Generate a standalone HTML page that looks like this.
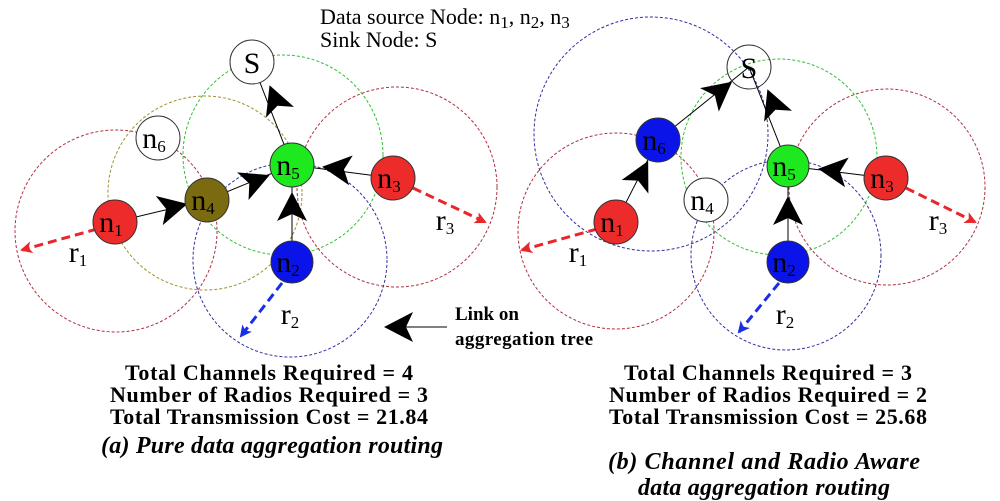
<!DOCTYPE html>
<html><head><meta charset="utf-8"><style>
body{margin:0;background:#fff}
svg{display:block}
text{font-family:"Liberation Serif",serif}
.n{font-size:30px;text-anchor:middle}
.s{font-size:17px}
.b{font-weight:bold;font-size:22px;text-anchor:middle}
.i{font-weight:bold;font-style:italic;font-size:24px;text-anchor:middle}
</style></head><body>
<svg width="1000" height="501" viewBox="0 0 1000 501" xmlns="http://www.w3.org/2000/svg">
<defs>
<g id="ah"><polygon points="18,0 -11,-15 -4,0 -11,15" fill="#000"/></g>
<marker id="mr" markerWidth="12" markerHeight="12" refX="10" refY="6" orient="auto" markerUnits="userSpaceOnUse"><polygon points="0,0 12,6 0,12 3,6" fill="#e8262b"/></marker>
<marker id="mb" markerWidth="12" markerHeight="12" refX="10" refY="6" orient="auto" markerUnits="userSpaceOnUse"><polygon points="0,0 12,6 0,12 3,6" fill="#1a2ee8"/></marker>
</defs>
<text x="320" y="24" style="font-size:22px">Data source Node: n<tspan class="s" dy="4">1</tspan><tspan dy="-4">, n</tspan><tspan class="s" dy="4">2</tspan><tspan dy="-4">, n</tspan><tspan class="s" dy="4">3</tspan></text>
<text x="320" y="47" style="font-size:22px">Sink Node: S</text>
<g fill="none" stroke-width="1" stroke-dasharray="3,2">
<circle cx="116" cy="231" r="101" stroke="#b03040"/>
<circle cx="205" cy="193" r="97" stroke="#a09030"/>
<circle cx="283" cy="155" r="100" stroke="#30c030"/>
<circle cx="397" cy="187" r="100" stroke="#b03040"/>
<circle cx="290" cy="260" r="97" stroke="#3030a0"/>
<circle cx="651" cy="134" r="117" stroke="#3030a0"/>
<circle cx="616" cy="231" r="98" stroke="#b03040"/>
<circle cx="779" cy="157" r="98" stroke="#30c030"/>
<circle cx="887" cy="187" r="98" stroke="#b03040"/>
<circle cx="786" cy="255" r="95" stroke="#3030a0"/>
</g>
<g stroke="#000" stroke-width="1">
<line x1="115" y1="222" x2="207" y2="200"/><line x1="207" y1="200" x2="292" y2="165"/>
<line x1="393" y1="178" x2="292" y2="165"/><line x1="292" y1="262" x2="292" y2="165"/>
<line x1="292" y1="165" x2="252" y2="62"/>
<line x1="616" y1="222" x2="658" y2="140"/><line x1="658" y1="140" x2="749" y2="67"/>
<line x1="788" y1="166" x2="749" y2="67"/><line x1="886" y1="178" x2="788" y2="166"/>
<line x1="788" y1="262" x2="788" y2="166"/>
<line x1="447" y1="327" x2="395" y2="327"/>
</g>
<g stroke-width="3" stroke-dasharray="9,5" fill="none">
<line x1="97" y1="229" x2="22" y2="250" stroke="#e8262b" marker-end="url(#mr)"/>
<line x1="413" y1="188" x2="485" y2="222" stroke="#e8262b" marker-end="url(#mr)"/>
<line x1="282" y1="283" x2="241" y2="336" stroke="#1a2ee8" marker-end="url(#mb)"/>
<line x1="597" y1="229" x2="522" y2="250" stroke="#e8262b" marker-end="url(#mr)"/>
<line x1="906" y1="188" x2="975" y2="222" stroke="#e8262b" marker-end="url(#mr)"/>
<line x1="779" y1="283" x2="739" y2="332" stroke="#1a2ee8" marker-end="url(#mb)"/>
</g>
<use href="#ah" transform="translate(170,208) rotate(-13.4)"/>
<use href="#ah" transform="translate(253,182) rotate(-22.4)"/>
<use href="#ah" transform="translate(340,169) rotate(187)"/>
<use href="#ah" transform="translate(292,210) rotate(-90)"/>
<use href="#ah" transform="translate(276,102) rotate(-111)"/>
<use href="#ah" transform="translate(640,177) rotate(-63)"/>
<use href="#ah" transform="translate(718,93) rotate(-38.7)"/>
<use href="#ah" transform="translate(774,106) rotate(-111.5)"/>
<use href="#ah" transform="translate(836,171) rotate(187)"/>
<use href="#ah" transform="translate(788,214) rotate(-90)"/>
<use href="#ah" transform="translate(402,327) rotate(180)"/>
<g stroke="#333" stroke-width="1">
<circle cx="252" cy="62" r="22" fill="#fff"/>
<circle cx="158" cy="138" r="22" fill="#fff"/>
<circle cx="292" cy="165" r="22" fill="#1ee81e"/>
<circle cx="207" cy="200" r="22" fill="#7a6a10"/>
<circle cx="115" cy="222" r="22" fill="#ee2b2b"/>
<circle cx="393" cy="178" r="22" fill="#ee2b2b"/>
<circle cx="292" cy="262" r="21" fill="#0a14e8"/>
<circle cx="749" cy="67" r="22" fill="none"/>
<circle cx="658" cy="140" r="22" fill="#0a14e8"/>
<circle cx="788" cy="166" r="21" fill="#1ee81e"/>
<circle cx="706" cy="200" r="22" fill="#fff"/>
<circle cx="616" cy="222" r="22" fill="#ee2b2b"/>
<circle cx="886" cy="178" r="22" fill="#ee2b2b"/>
<circle cx="788" cy="262" r="21" fill="#0a14e8"/>
</g>
<g class="n">
<text x="252" y="73">S</text><text x="749" y="78">S</text>
<text x="154" y="148">n<tspan class="s" dy="4">6</tspan></text>
<text x="288" y="175">n<tspan class="s" dy="4">5</tspan></text>
<text x="203" y="210">n<tspan class="s" dy="4">4</tspan></text>
<text x="111" y="232">n<tspan class="s" dy="4">1</tspan></text>
<text x="389" y="188">n<tspan class="s" dy="4">3</tspan></text>
<text x="288" y="272">n<tspan class="s" dy="4">2</tspan></text>
<text x="654" y="150">n<tspan class="s" dy="4">6</tspan></text>
<text x="784" y="176">n<tspan class="s" dy="4">5</tspan></text>
<text x="702" y="210">n<tspan class="s" dy="4">4</tspan></text>
<text x="612" y="232">n<tspan class="s" dy="4">1</tspan></text>
<text x="882" y="188">n<tspan class="s" dy="4">3</tspan></text>
<text x="784" y="272">n<tspan class="s" dy="4">2</tspan></text>
<text x="78" y="262">r<tspan class="s" dy="4">1</tspan></text>
<text x="445" y="230">r<tspan class="s" dy="4">3</tspan></text>
<text x="290" y="324">r<tspan class="s" dy="4">2</tspan></text>
<text x="578" y="262">r<tspan class="s" dy="4">1</tspan></text>
<text x="938" y="230">r<tspan class="s" dy="4">3</tspan></text>
<text x="785" y="324">r<tspan class="s" dy="4">2</tspan></text>
</g>
<text x="455" y="320" style="font-weight:bold;font-size:19px">Link on</text>
<text x="455" y="345" style="font-weight:bold;font-size:19px" textLength="138">aggregation tree</text>
<text class="b" x="269" y="380" textLength="288">Total Channels Required = 4</text>
<text class="b" x="269" y="402" textLength="318">Number of Radios Required = 3</text>
<text class="b" x="269" y="424" textLength="318">Total Transmission Cost = 21.84</text>
<text class="i" x="272" y="453" textLength="342">(a) Pure data aggregation routing</text>
<text class="b" x="768" y="380" textLength="288">Total Channels Required = 3</text>
<text class="b" x="768" y="402" textLength="318">Number of Radios Required = 2</text>
<text class="b" x="768" y="424" textLength="318">Total Transmission Cost = 25.68</text>
<text class="i" x="764" y="469" textLength="312">(b) Channel and Radio Aware</text>
<text class="i" x="764" y="495" textLength="252">data aggregation routing</text>
</svg>
</body></html>
